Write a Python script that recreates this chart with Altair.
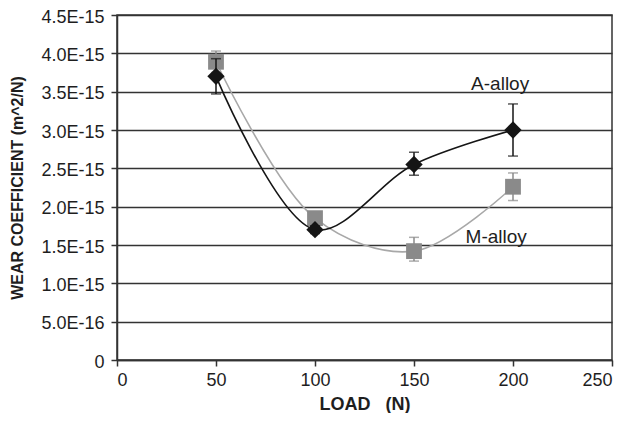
import altair as alt
import pandas as pd

# ---- data ----
load = [50, 100, 150, 200]
a_wear = [3.70e-15, 1.70e-15, 2.55e-15, 3.00e-15]
a_lo = [3.47e-15, 1.65e-15, 2.41e-15, 2.66e-15]
a_hi = [3.93e-15, 1.75e-15, 2.71e-15, 3.34e-15]
m_wear = [3.89e-15, 1.85e-15, 1.42e-15, 2.26e-15]
m_lo = [3.75e-15, 1.78e-15, 1.29e-15, 2.08e-15]
m_hi = [4.03e-15, 1.92e-15, 1.60e-15, 2.44e-15]

x_ticks = [0, 50, 100, 150, 200, 250]
y_ticks = [0, 0.5e-15, 1.0e-15, 1.5e-15, 2.0e-15, 2.5e-15, 3.0e-15, 3.5e-15, 4.0e-15, 4.5e-15]
y_labels = ["0", "5.0E-16", "1.0E-15", "1.5E-15", "2.0E-15", "2.5E-15",
            "3.0E-15", "3.5E-15", "4.0E-15", "4.5E-15"]

ann_text = ["A-alloy", "M-alloy"]
ann_x = [193.5, 191.5]
ann_y = [3.52e-15, 1.53e-15]

FONT = "Liberation Sans"
TXT = "#1e1e1e"

a_df = pd.DataFrame({"load": load, "w": a_wear, "lo": a_lo, "hi": a_hi})
m_df = pd.DataFrame({"load": load, "w": m_wear, "lo": m_lo, "hi": m_hi})
ann_df = pd.DataFrame({"t": ann_text, "x": ann_x, "y": ann_y})

label_expr = "[" + ",".join(f"'{s}'" for s in y_labels) + "][round(datum.value/5e-16)]"

xs = alt.X("load:Q", scale=alt.Scale(domain=[0, 250], nice=False),
           axis=alt.Axis(values=x_ticks, tickCount=12, title="LOAD\u00a0\u00a0\u00a0(N)", grid=False,
                         labelFontSize=18, labelFont=FONT, labelColor=TXT,
                         labelOverlap=False,
                         titleFont=FONT, titleFontSize=18, titleFontWeight="bold",
                         titleColor=TXT, titlePadding=6, tickSize=6,
                         tickColor="#333", domainColor="#333", domainWidth=1.5,
                         tickWidth=1.5, labelPadding=5))
ys = alt.Y("w:Q", scale=alt.Scale(domain=[0, 4.5e-15], nice=False, zero=True),
           axis=alt.Axis(values=y_ticks, tickCount=12, labelExpr=label_expr, labelOverlap=False,
                         title="WEAR COEFFICIENT (m^2/N)", grid=True,
                         gridColor="#333", gridWidth=1.5, gridOpacity=1,
                         labelFontSize=18, labelFont=FONT, labelColor=TXT, labelOffset=2,
                         titleFont=FONT, titleFontSize=16, titleFontWeight="bold",
                         titleColor=TXT, titleX=-100, titleY=172.5,
                         titleBaseline="middle", titleAlign="center",
                         tickSize=6, tickColor="#333", tickWidth=1.5,
                         domainColor="#333", domainWidth=1.5, labelPadding=7))


def series(df, mcolor, shape, size, lcolor):
    base = alt.Chart(df)
    line = base.mark_line(interpolate="catmull-rom", color=lcolor, strokeWidth=1.6).encode(x=xs, y=ys)
    rule = base.mark_rule(color=mcolor, strokeWidth=1.5).encode(
        x="load:Q", y="lo:Q", y2="hi:Q")
    cap_lo = base.mark_tick(color=mcolor, size=10, thickness=1.5, orient="horizontal").encode(
        x="load:Q", y="lo:Q")
    cap_hi = base.mark_tick(color=mcolor, size=10, thickness=1.5, orient="horizontal").encode(
        x="load:Q", y="hi:Q")
    pts = base.mark_point(shape=shape, filled=True, size=size, color=mcolor, opacity=1).encode(
        x="load:Q", y="w:Q")
    return [line, rule, cap_lo, cap_hi, pts]


layers = series(m_df, "#8a8a8a", "square", 250, "#a8a8a8") + \
         series(a_df, "#151515", "diamond", 300, "#151515")

ann = alt.Chart(ann_df).mark_text(font=FONT, fontSize=19, color=TXT, align="center",
                                  baseline="alphabetic").encode(
    x="x:Q", y="y:Q", text="t:N")

chart = alt.layer(*layers, ann).properties(
    width=495, height=345,
    autosize=alt.AutoSizeParams(type="none"),
    padding={"left": 109, "top": 7, "right": 7, "bottom": 53},
    background="white",
).configure_view(stroke="#333", strokeWidth=1.5)

chart.save("out.html", embed_options={"renderer": "svg", "actions": False})
